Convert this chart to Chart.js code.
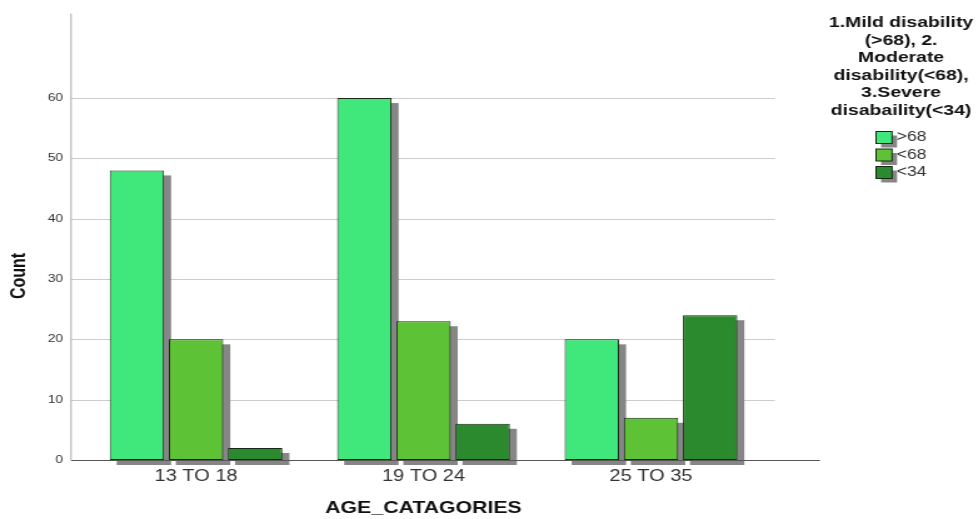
<!DOCTYPE html>
<html>
<head>
<meta charset="utf-8">
<script src="https://cdn.jsdelivr.net/npm/chart.js@4.4.1/dist/chart.umd.min.js"></script>
<style>
  html, body { margin: 0; padding: 0; background: #ffffff; overflow: hidden; }
  /* the chart is laid out narrow and widened horizontally, as in the exported graphic */
  #wrap { width: 782px; height: 519px; transform: scaleX(1.2506); transform-origin: 0 0; }
  #c { width: 782px; height: 519px; display: block; }
</style>
</head>
<body>
<div id="wrap"><canvas id="c" width="782" height="519"></canvas></div>
<script>
// ---- data ----
const categories = ['13 TO 18', '19 TO 24', '25 TO 35'];
const seriesLabels = ['>68', '<68', '<34'];
const mildCounts = [48, 60, 20];
const moderateCounts = [20, 23, 7];
const severeCounts = [2, 6, 24];
const yTicks = [0, 10, 20, 30, 40, 50, 60];
const yTitle = 'Count';
const legendTitle = ['1.Mild disability', '(>68), 2.', 'Moderate', 'disability(<68),', '3.Severe', 'disabaility(<34)'];

const barColors = ['#40E77A', '#5EC236', '#2B8A2E'];
const barBorder = '#162816';
const shadowColor = '#868686';
const FONT = '"Liberation Sans", Arial, Helvetica, sans-serif';
Chart.defaults.font.family = FONT;

// axis frame, grid lines, drop shadows under the bars, y title and legend
const framePlugin = {
  id: 'frame',
  beforeDatasetsDraw(chart) {
    const ctx = chart.ctx, ca = chart.chartArea, y = chart.scales.y;
    const axisX = ca.left - 9;
    ctx.save();
    ctx.lineWidth = 1;
    ctx.strokeStyle = '#cccccc';
    yTicks.filter(v => v > 0).forEach(v => {
      const py = Math.round(y.getPixelForValue(v)) + 0.5;
      ctx.beginPath(); ctx.moveTo(axisX, py); ctx.lineTo(ca.right + 8, py); ctx.stroke();
    });
    ctx.strokeStyle = '#a8a8a8';
    ctx.beginPath();
    ctx.moveTo(axisX, y.getPixelForValue(y.max));
    ctx.lineTo(axisX, y.getPixelForValue(0));
    ctx.stroke();
    // shadows
    ctx.fillStyle = shadowColor;
    chart.data.datasets.forEach((ds, i) => {
      chart.getDatasetMeta(i).data.forEach(bar => {
        const p = bar.getProps(['x', 'y', 'base', 'width'], true);
        ctx.fillRect(p.x - p.width / 2 + 5.6, p.y + 5, p.width, p.base - p.y);
      });
    });
    ctx.restore();
  },
  afterDatasetsDraw(chart) {
    const ctx = chart.ctx, ca = chart.chartArea, y = chart.scales.y;
    const py = Math.round(y.getPixelForValue(0)) + 0.5;
    ctx.save();
    ctx.strokeStyle = '#555555';
    ctx.lineWidth = 1;
    ctx.beginPath(); ctx.moveTo(ca.left - 9, py); ctx.lineTo(ca.right + 44, py); ctx.stroke();
    ctx.restore();
  },
  afterDraw(chart) {
    const ctx = chart.ctx;
    ctx.save();
    // y axis title
    ctx.translate(15.2, 276);
    ctx.rotate(-Math.PI / 2);
    ctx.fillStyle = '#111111';
    ctx.font = 'bold 16px ' + FONT;
    ctx.textAlign = 'center';
    ctx.textBaseline = 'middle';
    ctx.fillText(yTitle, 0, 0);
    ctx.restore();

    // legend
    ctx.save();
    const cx = 720.5;
    ctx.fillStyle = '#111111';
    ctx.font = 'bold 15.5px ' + FONT;
    ctx.textAlign = 'center';
    ctx.textBaseline = 'middle';
    legendTitle.forEach((t, i) => ctx.fillText(t, cx, 23 + i * 17.5));
    const bx = 700.5, bw = 12.8, bh = 12;
    chart.data.datasets.forEach((ds, i) => {
      const yc = 137.5 + i * 17.5;
      ctx.fillStyle = shadowColor;
      ctx.fillRect(bx + 4, yc - bh / 2 + 4, bw, bh);
      ctx.fillStyle = ds.backgroundColor;
      ctx.fillRect(bx, yc - bh / 2, bw, bh);
      ctx.strokeStyle = barBorder;
      ctx.lineWidth = 1;
      ctx.strokeRect(bx, yc - bh / 2, bw, bh);
      ctx.fillStyle = '#333333';
      ctx.font = '14px ' + FONT;
      ctx.textAlign = 'left';
      ctx.fillText(ds.label, bx + 16.5, yc);
    });
    ctx.restore();
  }
};

const seriesValues = [mildCounts, moderateCounts, severeCounts];

new Chart(document.getElementById('c'), {
  type: 'bar',
  data: {
    labels: categories,
    datasets: seriesLabels.map((label, i) => ({
      label,
      data: seriesValues[i],
      backgroundColor: barColors[i],
      borderColor: barBorder,
      borderWidth: 1,
      borderSkipped: false,
      categoryPercentage: 0.78,
      barPercentage: 0.92
    }))
  },
  options: {
    responsive: false,
    animation: false,
    events: [],
    layout: { padding: { left: 0, top: 13.6, right: 170.5, bottom: 0 } },
    plugins: { legend: { display: false }, tooltip: { enabled: false } },
    scales: {
      x: {
        grid: { display: false, drawTicks: false },
        border: { display: false },
        ticks: { padding: 7, color: '#333333', font: { size: 16 } },
        title: { display: true, text: 'AGE_CATAGORIES', color: '#111111',
                 font: { size: 17, weight: 'bold' }, padding: { top: 0, bottom: 0 } },
        afterFit(s) { s.height = 59; }
      },
      y: {
        min: 0,
        max: 74,
        afterBuildTicks(s) { s.ticks = yTicks.map(v => ({ value: v })); },
        grid: { display: false, drawTicks: false },
        border: { display: false },
        ticks: { padding: 15.4, color: '#333333', font: { size: 11 } },
        afterFit(s) { s.width = 65.8; s.paddingTop = 0; s.paddingBottom = 0; }
      }
    }
  },
  plugins: [framePlugin]
});
</script>
</body>
</html>
